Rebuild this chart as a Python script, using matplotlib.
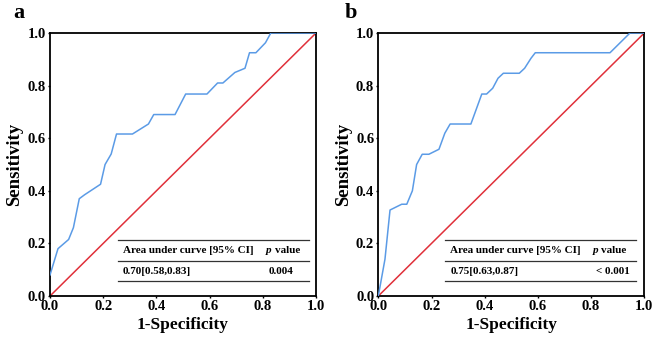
import matplotlib
matplotlib.use('Agg')
import matplotlib.pyplot as plt

plt.rcParams['font.family'] = ['Liberation Serif', 'DejaVu Serif']
plt.rcParams['font.weight'] = 'bold'

# ROC 曲线数据
fpr_a = [0.0, 0.03, 0.07, 0.088, 0.11, 0.13, 0.19, 0.207, 0.23, 0.25, 0.31, 0.37, 0.39,
         0.47, 0.51, 0.59, 0.63, 0.65, 0.695, 0.733, 0.75, 0.774, 0.81, 0.83, 1.0]
tpr_a = [0.08, 0.18, 0.215, 0.26, 0.37, 0.385, 0.425, 0.50, 0.54, 0.616, 0.616, 0.654, 0.69,
         0.69, 0.768, 0.768, 0.81, 0.81, 0.85, 0.866, 0.925, 0.925, 0.963, 1.0, 1.0]

fpr_b = [0.0, 0.025, 0.044, 0.088, 0.107, 0.128, 0.144, 0.165, 0.19, 0.228, 0.25, 0.27, 0.348,
         0.389, 0.407, 0.43, 0.45, 0.47, 0.53, 0.55, 0.574, 0.59, 0.871, 0.946, 1.0]
tpr_b = [0.0, 0.14, 0.327, 0.349, 0.349, 0.40, 0.50, 0.539, 0.539, 0.558, 0.619, 0.654, 0.654,
         0.768, 0.768, 0.79, 0.828, 0.847, 0.847, 0.866, 0.904, 0.925, 0.925, 1.0, 1.0]

panels = ['a', 'b']
auc_text = ['0.70[0.58,0.83]', '0.75[0.63,0.87]']
p_text = ['0.004', '< 0.001']
ticks = [0.0, 0.2, 0.4, 0.6, 0.8, 1.0]

fig = plt.figure(figsize=(6.65, 3.39), dpi=100)
axes = [fig.add_axes([0.0752, 0.1268, 0.4, 0.7758]),
        fig.add_axes([0.5689, 0.1268, 0.4, 0.7758])]

curves = [(fpr_a, tpr_a), (fpr_b, tpr_b)]
tab_x = [(0.256, 0.974, 0.273, 0.811, 0.82), (0.25, 0.969, 0.27, 0.805, 0.817)]

for i, ax in enumerate(axes):
    fx, ty = curves[i]
    ax.plot([0, 1], [0, 1], color='#E0303A', lw=1.1, zorder=2)
    ax.plot(fx, ty, color='#5B9BE6', lw=1.1, zorder=3)
    ax.set_xlim(0, 1)
    ax.set_ylim(0, 1)
    ax.set_xticks(ticks)
    ax.set_yticks(ticks)
    ax.set_xticklabels([f'{t:.1f}' for t in ticks])
    ax.set_yticklabels([f'{t:.1f}' for t in ticks])
    ax.tick_params(length=1.5, width=1, labelsize=10.5, pad=1.5)
    for lab in ax.get_xticklabels() + ax.get_yticklabels():
        lab.set_fontweight('bold')
    for s in ax.spines.values():
        s.set_linewidth(1.3)
    ax.set_xlabel('1-Specificity', fontsize=12.5, fontweight='bold', labelpad=3)
    ax.set_ylabel('Sensitivity', fontsize=13.5, fontweight='bold', labelpad=3)

    # 表格
    x0, x1, xt, xp, xv = tab_x[i]
    for yl in [0.213, 0.134, 0.057]:
        ax.plot([x0, x1], [yl, yl], color='#333333', lw=0.9, transform=ax.transAxes, zorder=4)
    ax.text(xt, 0.173, 'Area under curve [95% CI]', transform=ax.transAxes,
            fontsize=8, fontweight='bold', va='center', ha='left')
    ax.text(xp, 0.173, 'p', transform=ax.transAxes, fontstyle='italic',
            fontsize=8, fontweight='bold', va='center', ha='left')
    ax.text(xp + 0.033, 0.173, 'value', transform=ax.transAxes,
            fontsize=8, fontweight='bold', va='center', ha='left')
    ax.text(xt, 0.095, auc_text[i], transform=ax.transAxes,
            fontsize=8, fontweight='bold', va='center', ha='left')
    ax.text(xv, 0.095, p_text[i], transform=ax.transAxes,
            fontsize=8, fontweight='bold', va='center', ha='left')

fig.text(13 / 665, 1 - 18 / 339, panels[0], fontsize=16, fontweight='bold')
fig.text(345 / 665, 1 - 18 / 339, panels[1], fontsize=16, fontweight='bold')

fig.savefig('out.png', dpi=100)
